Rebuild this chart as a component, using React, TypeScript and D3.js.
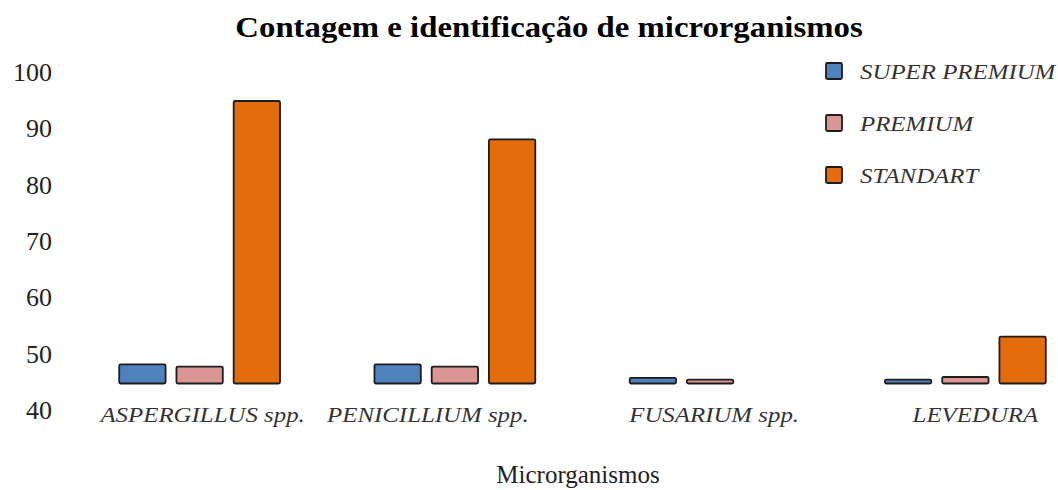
import React from "react";
import * as d3 from "d3";

const categories = ["ASPERGILLUS spp.", "PENICILLIUM spp.", "FUSARIUM spp.", "LEVEDURA"];
const seriesNames = ["SUPER PREMIUM", "PREMIUM", "STANDART"];
const superPremium = [48.1, 48.1, 45.7, 45.4];
const premium = [47.7, 47.7, 45.4, 45.85];
const standart = [94.8, 88.0, null, 53.0];
const yTicks = [40, 50, 60, 70, 80, 90, 100];
const baseValue = 44.7;

const colors = ["#4f81bd", "#d99694", "#e46c0a"];
// the category labels in the original sit slightly off the group centres
const labelShift = [3, -27, 4, 10];

const W = 1058;
const H = 490;
const serif = "'Liberation Serif', 'Times New Roman', serif";
const stretch = 1.13;

export default function App() {
  const series = [superPremium, premium, standart];

  const x0 = d3.scaleBand<string>().domain(categories).range([72, 1093]).paddingInner(0.37).paddingOuter(0.185);
  const x1 = d3.scaleBand<string>().domain(seriesNames).range([0, x0.bandwidth()]).paddingInner(0.19);
  const y = d3.scaleLinear().domain([40, 100]).range([410, 71.7]);

  return (
    <svg width={W} height={H} style={{ position: "absolute", left: 0, top: 0, background: "#fff" }}>
      <g transform={`translate(549,37) scale(${stretch},1)`}>
        <text textAnchor="middle" fontFamily={serif} fontWeight="bold" fontSize={29} fill="#000">
          Contagem e identificação de microrganismos
        </text>
      </g>

      {yTicks.map(t => (
        <text key={t} x={52} y={y(t)} dy="0.35em" textAnchor="end" fontFamily={serif} fontSize={26} fill="#222">
          {t}
        </text>
      ))}

      {categories.map((c, i) => (
        <g key={c} transform={`translate(${x0(c)},0)`}>
          {seriesNames.map((s, j) => {
            const v = series[j][i];
            if (v == null) return null;
            const top = y(v);
            const bottom = y(baseValue);
            return (
              <rect
                key={s}
                x={x1(s)}
                y={top}
                width={x1.bandwidth()}
                height={bottom - top}
                rx={1.5}
                fill={colors[j]}
                stroke="#1c1c1c"
                strokeWidth={1.8}
              />
            );
          })}
          <g transform={`translate(${x0.bandwidth() / 2 + labelShift[i]},422) scale(${stretch},1)`}>
            <text textAnchor="middle" fontFamily={serif} fontStyle="italic" fontSize={22} fill="#333">
              {c}
            </text>
          </g>
        </g>
      ))}

      <text x={578} y={483} textAnchor="middle" fontFamily={serif} fontSize={25} fill="#222">
        Microrganismos
      </text>

      {seriesNames.map((s, j) => {
        const cy = 71 + j * 52;
        return (
          <g key={s}>
            <rect x={826} y={cy - 8} width={16} height={16} rx={1.5} fill={colors[j]} stroke="#1c1c1c" strokeWidth={1.8} />
            <g transform={`translate(860,${cy}) scale(${stretch},1)`}>
              <text dy="0.35em" fontFamily={serif} fontStyle="italic" fontSize={22} fill="#333">
                {s}
              </text>
            </g>
          </g>
        );
      })}
    </svg>
  );
}
